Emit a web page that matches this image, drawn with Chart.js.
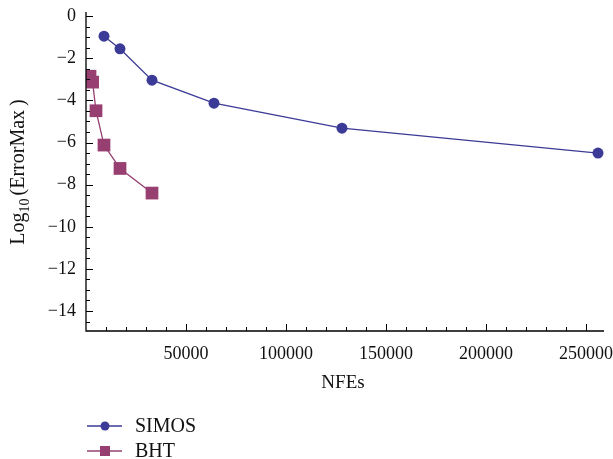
<!DOCTYPE html>
<html>
<head>
<meta charset="utf-8">
<script src="https://cdn.jsdelivr.net/npm/chart.js@4/dist/chart.umd.min.js"></script>
<style>
  html, body { margin: 0; padding: 0; background: #fff; }
  #wrap { width: 613px; height: 459px; }
</style>
</head>
<body>
<div id="wrap"><canvas id="c" width="613" height="459"></canvas></div>
<script>
// values
var simos_nfe = [9000, 17000, 33000, 64000, 128000, 256000];
var simos_err = [-0.95, -1.55, -3.04, -4.13, -5.32, -6.5];
var bht_nfe = [2000, 3300, 5000, 9000, 17000, 33000];
var bht_err = [-2.85, -3.13, -4.49, -6.12, -7.23, -8.4];
var series_names = ['SIMOS', 'BHT'];

var blue = '#3b3b97';
var plum = '#963f70';
var fontFam = '"Liberation Serif", "DejaVu Serif", serif';

function minus(v) {
  return String(v).replace('-', '\u2212');
}

// ticks drawn inward like mathematica, plus axis lines, titles and legend
var decor = {
  id: 'decor',
  afterDraw: function(chart) {
    var ctx = chart.ctx;
    var a = chart.chartArea;
    var xs = chart.scales.x, ys = chart.scales.y;
    ctx.save();
    ctx.strokeStyle = '#000';
    ctx.lineWidth = 1.3;
    ctx.beginPath();
    ctx.moveTo(a.left, a.top);
    ctx.lineTo(a.left, a.bottom);
    ctx.lineTo(a.right, a.bottom);
    ctx.stroke();

    ctx.lineWidth = 1;
    ctx.beginPath();
    for (var v = 0; v >= -15; v -= 0.5) {
      var py = Math.round(ys.getPixelForValue(v)) + 0.5;
      if (py < a.top || py > a.bottom) continue;
      var len = (v % 2 === 0) ? 7 : 4;
      ctx.moveTo(a.left, py);
      ctx.lineTo(a.left + len, py);
    }
    for (var t = 10000; t <= 259000; t += 10000) {
      var px = Math.round(xs.getPixelForValue(t)) + 0.5;
      var l2 = (t % 50000 === 0) ? 7 : 4;
      ctx.moveTo(px, a.bottom);
      ctx.lineTo(px, a.bottom - l2);
    }
    ctx.stroke();

    // x title
    ctx.fillStyle = '#111';
    ctx.font = '19px ' + fontFam;
    ctx.textAlign = 'center';
    ctx.textBaseline = 'middle';
    ctx.fillText('NFEs', 343, 383);

    // y title with subscript
    ctx.translate(24, 172);
    ctx.rotate(-Math.PI / 2);
    ctx.textBaseline = 'alphabetic';
    ctx.textAlign = 'left';
    var big = '20px ' + fontFam, small = '14px ' + fontFam;
    ctx.font = big;
    var w1 = ctx.measureText('Log').width;
    ctx.font = small;
    var w2 = ctx.measureText('10').width + 3;
    ctx.font = big;
    var w3 = ctx.measureText('(ErrorMax').width + 4;
    var w4 = ctx.measureText(')').width;
    var x0 = -(w1 + w2 + w3 + w4) / 2;
    ctx.fillText('Log', x0, 0);
    ctx.font = small;
    ctx.fillText('10', x0 + w1, 5);
    ctx.font = big;
    ctx.fillText('(ErrorMax', x0 + w1 + w2, 0);
    ctx.fillText(')', x0 + w1 + w2 + w3, 0);
    ctx.restore();

    // legend
    ctx.save();
    var rows = [[426, blue, 'circle'], [451, plum, 'rect']];
    rows.forEach(function(r, i) {
      var y = r[0];
      ctx.strokeStyle = r[1];
      ctx.fillStyle = r[1];
      ctx.lineWidth = 1.3;
      ctx.beginPath();
      ctx.moveTo(87, y);
      ctx.lineTo(122, y);
      ctx.stroke();
      ctx.beginPath();
      if (r[2] === 'circle') {
        ctx.arc(105, y, 4.5, 0, Math.PI * 2);
      } else {
        ctx.rect(100, y - 5, 10, 10);
      }
      ctx.fill();
      ctx.fillStyle = '#111';
      ctx.font = '20px ' + fontFam;
      ctx.textBaseline = 'middle';
      ctx.fillText(series_names[i], 135, y + 1);
    });
    ctx.restore();
  }
};

function noPad(s) {
  s.paddingTop = 0;
  s.paddingBottom = 0;
  s.paddingLeft = 0;
  s.paddingRight = 0;
}

new Chart(document.getElementById('c'), {
  type: 'line',
  data: {
    datasets: [{
      label: series_names[0],
      data: simos_nfe.map(function(x, i) { return {x: x, y: simos_err[i]}; }),
      borderColor: blue,
      backgroundColor: blue,
      borderWidth: 1.3,
      pointStyle: 'circle',
      pointRadius: 5.5,
      pointBorderWidth: 0,
      tension: 0
    }, {
      label: series_names[1],
      data: bht_nfe.map(function(x, i) { return {x: x, y: bht_err[i]}; }),
      borderColor: plum,
      backgroundColor: plum,
      borderWidth: 1.3,
      pointStyle: 'rect',
      pointRadius: 9,
      pointBorderWidth: 0,
      tension: 0
    }]
  },
  options: {
    responsive: false,
    animation: false,
    layout: { padding: { left: 0, top: 12, right: 9, bottom: 0 } },
    plugins: { legend: { display: false }, tooltip: { enabled: false } },
    scales: {
      x: {
        type: 'linear',
        min: 0,
        max: 259000,
        border: { display: false },
        grid: { display: false },
        afterFit: function(s) { s.height = 128; noPad(s); },
        afterBuildTicks: function(s) {
          s.ticks = [50000, 100000, 150000, 200000, 250000].map(function(v) { return {value: v}; });
        },
        ticks: {
          color: '#111',
          font: { family: fontFam, size: 18 },
          padding: 4,
          maxRotation: 0,
          callback: function(v) { return String(v); }
        }
      },
      y: {
        type: 'linear',
        min: -14.95,
        max: 0.2,
        border: { display: false },
        grid: { display: false },
        afterFit: function(s) { s.width = 86; noPad(s); },
        afterBuildTicks: function(s) {
          var arr = [];
          for (var v = 0; v >= -14; v -= 2) arr.push({value: v});
          s.ticks = arr;
        },
        ticks: {
          color: '#111',
          font: { family: fontFam, size: 18 },
          padding: 2,
          callback: function(v) { return minus(v); }
        }
      }
    }
  },
  plugins: [decor]
});
</script>
</body>
</html>
